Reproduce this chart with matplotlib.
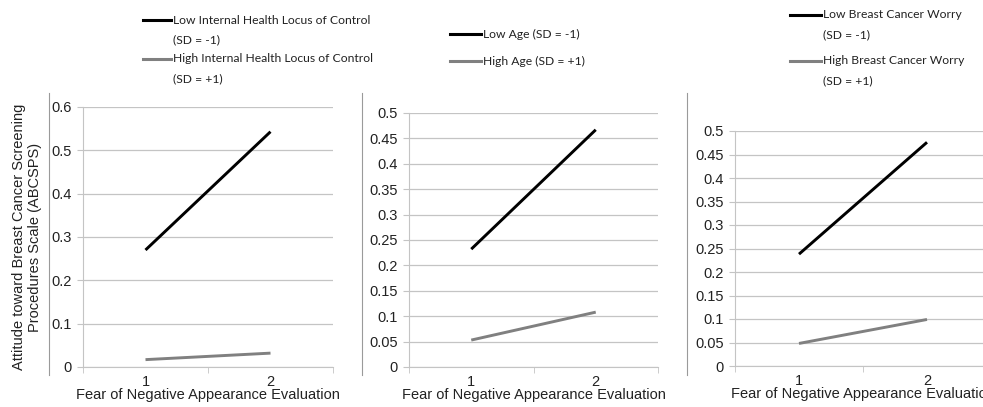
import matplotlib
matplotlib.use("Agg")
import matplotlib.pyplot as plt
from matplotlib.lines import Line2D

W, H = 983, 407
categories = [1, 2]
xtick_labels = ["1", "2"]

p1_low = [0.270, 0.543]
p1_high = [0.017, 0.032]
p2_low = [0.232, 0.467]
p2_high = [0.053, 0.108]
p3_low = [0.238, 0.476]
p3_high = [0.048, 0.099]

p1_yticks = [0, 0.1, 0.2, 0.3, 0.4, 0.5, 0.6]
p23_yticks = [0, 0.05, 0.1, 0.15, 0.2, 0.25, 0.3, 0.35, 0.4, 0.45, 0.5]

xlabel = "Fear of Negative Appearance Evaluation"
ylabel = "Attitude toward Breast Cancer Screening\nProcedures Scale (ABCSPS)"

fig = plt.figure(figsize=(W / 100, H / 100), dpi=100)
AX_FONT = "Liberation Sans"
LEG_FONT = "Lato"
GRID = "#c4c4c4"
GRAY = "#808080"
TXT = "#222222"


def add_ax(l, r, t, b):
    return fig.add_axes([l / W, 1 - b / H, (r - l) / W, (b - t) / H])


def style(ax, low, high, yticks, ymax):
    ax.plot(categories, low, color="black", lw=2.1, solid_capstyle="butt")
    ax.plot(categories, high, color=GRAY, lw=2.1, solid_capstyle="butt")
    ax.set_xlim(0.5, 2.5)
    ax.set_ylim(0, ymax)
    ax.set_yticks(yticks)
    ax.set_yticklabels([("%g" % v) for v in yticks], fontsize=10.5, family=AX_FONT, color=TXT)
    ax.set_xticks(categories)
    ax.set_xticklabels(xtick_labels, fontsize=10.5, family=AX_FONT, color=TXT)
    ax.set_xticks([0.5, 1.5, 2.5], minor=True)
    ax.tick_params(axis="x", which="major", length=0, pad=6)
    ax.tick_params(axis="x", which="minor", length=4, color=GRID, direction="out")
    ax.tick_params(axis="y", length=4, color=GRID, pad=4)
    ax.yaxis.grid(True, color=GRID, lw=0.9)
    ax.set_axisbelow(True)
    for s in ["top", "right"]:
        ax.spines[s].set_visible(False)
    ax.spines["left"].set_color(GRID)
    ax.spines["bottom"].set_color(GRID)
    ax.set_xlabel(xlabel, fontsize=10.5, family=AX_FONT, color=TXT, labelpad=-1)


ax1 = add_ax(83, 333, 107, 367)
style(ax1, p1_low, p1_high, p1_yticks, 0.6)
ax1.set_ylabel(ylabel, fontsize=10.5, family=AX_FONT, color=TXT, labelpad=7)

ax2 = add_ax(409, 658, 113, 367)
style(ax2, p2_low, p2_high, p23_yticks, 0.5)

ax3 = add_ax(735, 991, 131, 366)
style(ax3, p3_low, p3_high, p23_yticks, 0.5)

# separator lines
for x in [49, 362, 687]:
    fig.add_artist(Line2D([x / W, x / W], [1 - 93 / H, 1 - 375 / H], color="#9a9a9a", lw=0.8))


def legend_entry(x0, x1, y, color, lines):
    fig.add_artist(Line2D([x0 / W, x1 / W], [1 - y / H, 1 - y / H], color=color, lw=2.2))
    for i, t in enumerate(lines):
        fig.text((x1 + 2) / W, 1 - (y + i * 20) / H, t, fontsize=8.7, family=LEG_FONT,
                 va="center", ha="left", color="#222222")


legend_entry(143, 171, 20, "black", ["Low Internal Health Locus of Control", "(SD = -1)"])
legend_entry(143, 171, 59, GRAY, ["High Internal Health Locus of Control", "(SD = +1)"])
legend_entry(450, 481, 34, "black", ["Low Age (SD = -1)"])
legend_entry(450, 481, 61, GRAY, ["High Age (SD = +1)"])
legend_entry(790, 821, 15, "black", ["Low Breast Cancer Worry", "(SD = -1)"])
legend_entry(790, 821, 61, GRAY, ["High Breast Cancer Worry", "(SD = +1)"])

fig.savefig("out.png", dpi=100)
